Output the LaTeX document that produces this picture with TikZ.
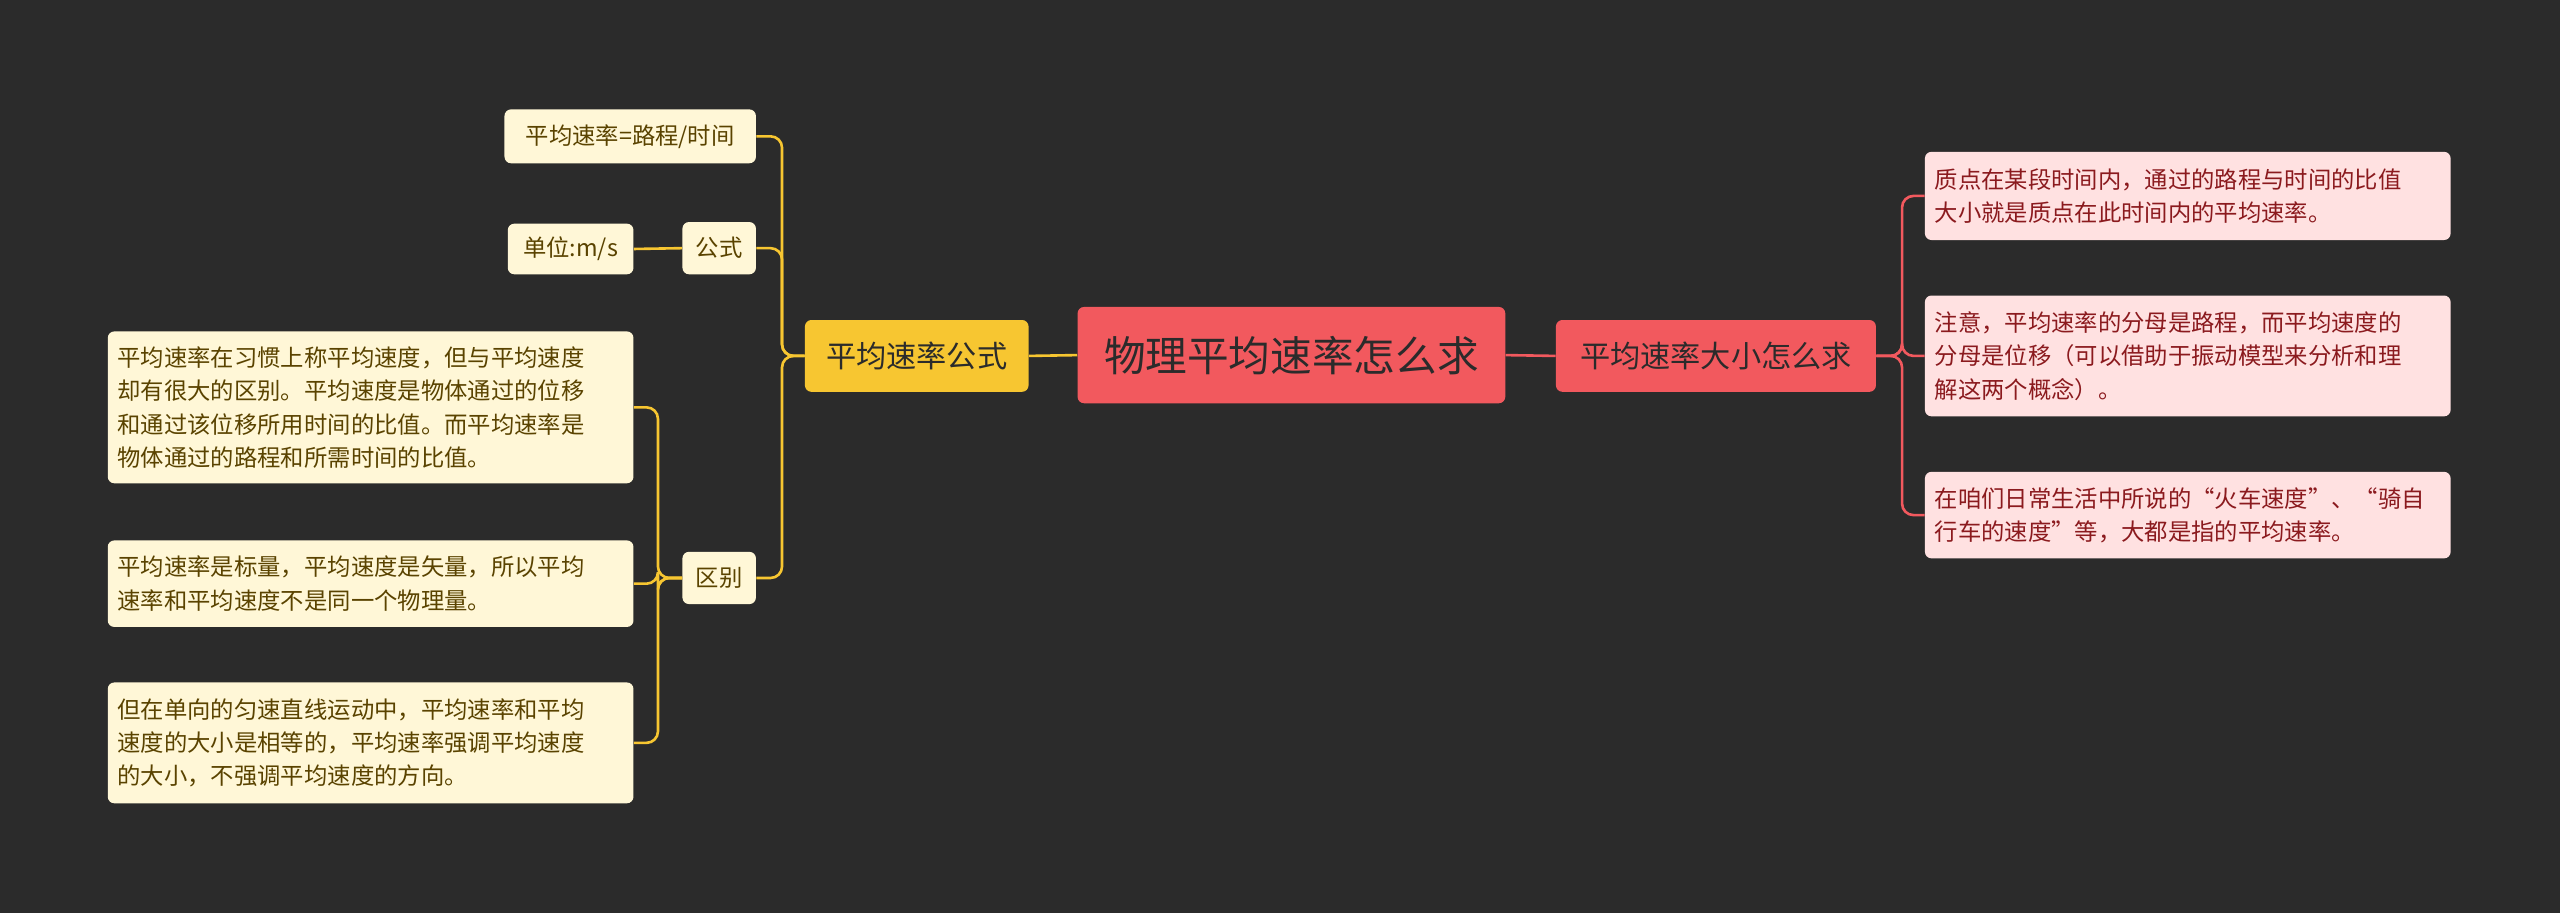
\documentclass[tikz,border=0pt]{standalone}
\usepackage{fontspec}
\setmainfont{Noto Sans CJK SC}
\definecolor{bg}{HTML}{2B2B2B}
\definecolor{redf}{HTML}{F2595E}
\definecolor{yelf}{HTML}{F7C631}
\definecolor{cream}{HTML}{FFF7D7}
\definecolor{pink}{HTML}{FFE1E1}
\definecolor{redtx}{HTML}{8B1A1E}
\definecolor{yeltx}{HTML}{5A4300}
\begin{document}
\begin{tikzpicture}[x=1pt,y=-1pt,
 box/.style={draw=none,rounded corners=4pt,inner sep=0pt,anchor=center},
 leaf/.style={box,fill=cream,text=yeltx,font=\fontsize{14.3}{20.5}\selectfont},
 pleaf/.style={box,fill=pink,text=redtx,font=\fontsize{14.3}{20.5}\selectfont},
 yl/.style={draw=yelf,line width=1.6pt,rounded corners=7pt},
 rl/.style={draw=redf,line width=1.6pt,rounded corners=7pt}]
\fill[bg] (0,0) rectangle (1568,559);
\useasboundingbox (0,0) rectangle (1568,559);
\node[box,fill=redf,minimum width=262,minimum height=59,text=bg,font=\fontsize{25.5}{28}\selectfont] (c) at (791,217.5) {物理平均速率怎么求};
\node[box,fill=yelf,minimum width=137,minimum height=44,text=bg,font=\fontsize{18.5}{20}\selectfont] (l) at (561.5,218) {平均速率公式};
\node[box,fill=redf,minimum width=196,minimum height=44,text=bg,font=\fontsize{18.5}{20}\selectfont] (r) at (1051,218) {平均速率大小怎么求};
\node[leaf,minimum width=45,minimum height=32] (gs) at (440.5,152) {公式};
\node[leaf,minimum width=45,minimum height=32] (qb) at (440.5,354) {区别};
\node[leaf,minimum width=154,minimum height=33] (f) at (386,83.5) {平均速率=路程/时间};
\node[leaf,minimum width=77,minimum height=31] (u) at (349.5,152.5) {单位:m/s};
\node[leaf,minimum width=322,minimum height=93,text width=310,align=left] (a1) at (227,249.5) {平均速率在习惯上称平均速度，但与平均速度\\却有很大的区别。平均速度是物体通过的位移\\和通过该位移所用时间的比值。而平均速率是\\物体通过的路程和所需时间的比值。};
\node[leaf,minimum width=322,minimum height=53,text width=310,align=left] (a2) at (227,357.5) {平均速率是标量，平均速度是矢量，所以平均\\速率和平均速度不是同一个物理量。};
\node[leaf,minimum width=322,minimum height=74,text width=310,align=left] (a3) at (227,455) {但在单向的匀速直线运动中，平均速率和平均\\速度的大小是相等的，平均速率强调平均速度\\的大小，不强调平均速度的方向。};
\node[pleaf,minimum width=322,minimum height=54,text width=310,align=left] (b1) at (1340,120) {质点在某段时间内，通过的路程与时间的比值\\大小就是质点在此时间内的平均速率。};
\node[pleaf,minimum width=322,minimum height=74,text width=310,align=left] (b2) at (1340,218) {注意，平均速率的分母是路程，而平均速度的\\分母是位移（可以借助于振动模型来分析和理\\解这两个概念）。};
\node[pleaf,minimum width=322,minimum height=53,text width=310,align=left] (b3) at (1340,315.5) {在咱们日常生活中所说的“火车速度”、“骑自\\行车的速度”等，大都是指的平均速率。};
\draw[rl] (c.east) -- (r.west);
\draw[yl] (c.west) -- (l.east);
\foreach \t in {f,gs,qb} \draw[yl] (l.west) -- (479,218) |- (\t.east);
\draw[yl] (gs.west) -- (u.east);
\foreach \t in {a1,a2,a3} \draw[yl] (qb.west) -- (403,354) |- (\t.east);
\foreach \t in {b1,b2,b3} \draw[rl] (r.east) -- (1165,218) |- (\t.west);
\end{tikzpicture}
\end{document}
